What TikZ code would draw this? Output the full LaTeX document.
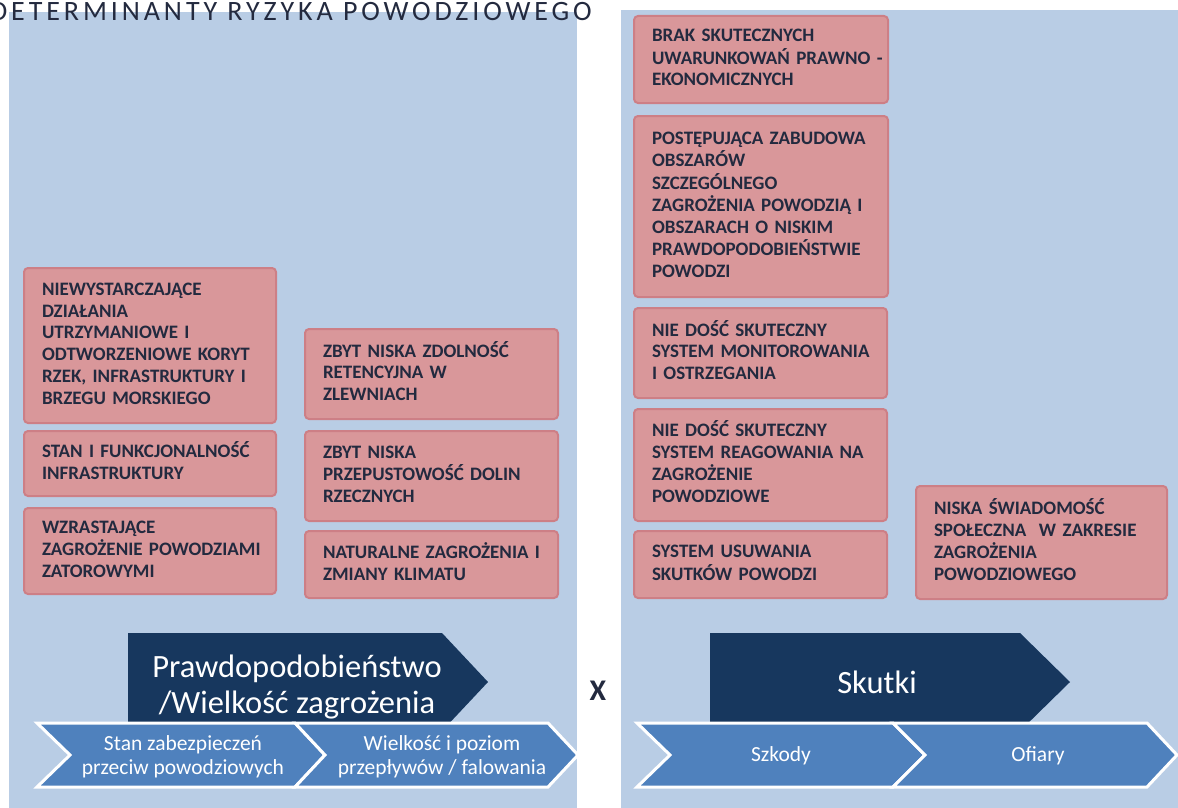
\documentclass[tikz,border=0pt]{standalone}
\usepackage{fontspec}
\setmainfont{Carlito}
\newfontfamily\titlefont[LetterSpace=14]{Carlito}

\definecolor{panelblue}{HTML}{B9CDE5}
\definecolor{boxfill}{HTML}{D9979A}
\definecolor{boxedge}{HTML}{CD7F86}
\definecolor{ink}{HTML}{232A3F}
\definecolor{navy}{HTML}{17375E}
\definecolor{chevblue}{HTML}{4F81BD}

\newcommand\boxfont{\bfseries\fontsize{19}{21.7}\selectfont}

% risk factor box: name, x1, y1, x2, y2, lines
\newcommand\riskbox[6]{%
  \pgfmathsetmacro\rbw{#4-#2}%
  \pgfmathsetmacro\rbtw{#4-#2-36}%
  \pgfmathsetmacro\rbh{#5-#3}%
  \node[riskbox, minimum width=\rbw pt, text width=\rbtw pt, minimum height=\rbh pt]
    (#1) at (#2,#3) {\noindent\begin{tabular}{@{}l@{}}#6\end{tabular}};}

\begin{document}
\begin{tikzpicture}[x=1pt,y=-1pt,
  riskbox/.style={draw=boxedge, fill=boxfill, line width=2pt, rounded corners=4pt,
    inner xsep=18pt, inner ysep=0pt, anchor=north west, text=ink, font=\boxfont,
    align=left},
  panel/.style={fill=panelblue},
  bigarrow/.style={fill=navy},
  chevron/.style={fill=chevblue, draw=white, line width=3pt, line join=miter},
  bigtext/.style={text=white, font=\fontsize{32.5}{36}\selectfont, align=center, inner sep=0pt},
  chevtext/.style={text=white, font=\fontsize{21.5}{24}\selectfont, align=center, inner sep=0pt}]

\useasboundingbox (0,0) rectangle (1178,808);
\fill[white] (0,0) rectangle (1178,808);

\begin{scope}
\clip (0,0) rectangle (1178,808);

% the two panels
\fill[panel] (9,12) rectangle (577,808);
\fill[panel] (621,10) rectangle (1178,808);

% heading
\node[anchor=base east, inner sep=0pt, text=ink,
      font=\titlefont\fontsize{28}{30}\selectfont] (title) at (592,21)
  {DETERMINANTY RYZYKA POWODZIOWEGO};

% left panel, first column
\riskbox{l1}{23}{267}{275}{422}{NIEWYSTARCZAJĄCE\\DZIAŁANIA\\UTRZYMANIOWE I\\ODTWORZENIOWE KORYT\\RZEK, INFRASTRUKTURY I\\BRZEGU MORSKIEGO}
\riskbox{l2}{23}{430}{275}{495}{STAN I FUNKCJONALNOŚĆ\\INFRASTRUKTURY}
\riskbox{l3}{23}{507}{275}{593}{WZRASTAJĄCE\\ZAGROŻENIE POWODZIAMI\\ZATOROWYMI}

% left panel, second column
\riskbox{m1}{304}{328}{557}{418}{ZBYT NISKA ZDOLNOŚĆ\\RETENCYJNA W\\ZLEWNIACH}
\riskbox{m2}{304}{430}{557}{520}{ZBYT NISKA\\PRZEPUSTOWOŚĆ DOLIN\\RZECZNYCH}
\riskbox{m3}{304}{530}{557}{597}{NATURALNE ZAGROŻENIA I\\ZMIANY KLIMATU}

% right panel
\riskbox{r1}{633}{15}{887}{102}{BRAK SKUTECZNYCH\\UWARUNKOWAŃ PRAWNO -\\EKONOMICZNYCH}
\riskbox{r2}{633}{115}{887}{296}{POSTĘPUJĄCA ZABUDOWA\\OBSZARÓW\\SZCZEGÓLNEGO\\ZAGROŻENIA POWODZIĄ I\\OBSZARACH O NISKIM\\PRAWDOPODOBIEŃSTWIE\\POWODZI}
\riskbox{r3}{633}{307}{886}{397}{NIE DOŚĆ SKUTECZNY\\SYSTEM MONITOROWANIA\\I OSTRZEGANIA}
\riskbox{r4}{633}{408}{886}{520}{NIE DOŚĆ SKUTECZNY\\SYSTEM REAGOWANIA NA\\ZAGROŻENIE\\POWODZIOWE}
\riskbox{r5}{633}{530}{886}{597}{SYSTEM USUWANIA\\SKUTKÓW POWODZI}
\riskbox{r6}{915}{485}{1166}{598}{NISKA ŚWIADOMOŚĆ\\SPOŁECZNA~~W ZAKRESIE\\ZAGROŻENIA\\POWODZIOWEGO}

% headline arrows
\fill[bigarrow] (128,633) -- (442,633) -- (488,682) -- (442,731) -- (128,731) -- cycle;
\fill[bigarrow] (710,633) -- (1020,633) -- (1070,682) -- (1020,731) -- (710,731) -- cycle;

% chevrons
\draw[chevron] (37,723) -- (295,723) -- (325,755) -- (295,787) -- (37,787) -- (70,755) -- cycle;
\draw[chevron] (295,723) -- (548,723) -- (578,755) -- (548,787) -- (295,787) -- (325,755) -- cycle;
\draw[chevron] (637,723) -- (893,723) -- (925,755) -- (893,787) -- (637,787) -- (670,755) -- cycle;
\draw[chevron] (893,723) -- (1147,723) -- (1177,755) -- (1147,787) -- (893,787) -- (925,755) -- cycle;

% labels
\node[bigtext] (prob) at (297,687) {Prawdopodobieństwo\\/Wielkość zagrożenia};
\node[bigtext] (skutki) at (877,682) {Skutki};
\node[text=ink, font=\bfseries\fontsize{30}{32}\selectfont, inner sep=0pt] (times) at (598,691) {X};

\node[chevtext] (stan) at (183,757) {Stan zabezpieczeń\\przeciw powodziowych};
\node[chevtext] (wielk) at (442,757) {Wielkość i poziom\\przepływów / falowania};
\node[chevtext] (szkody) at (781,756) {Szkody};
\node[chevtext] (ofiary) at (1038,756) {Ofiary};
\end{scope}
\end{tikzpicture}
\end{document}
